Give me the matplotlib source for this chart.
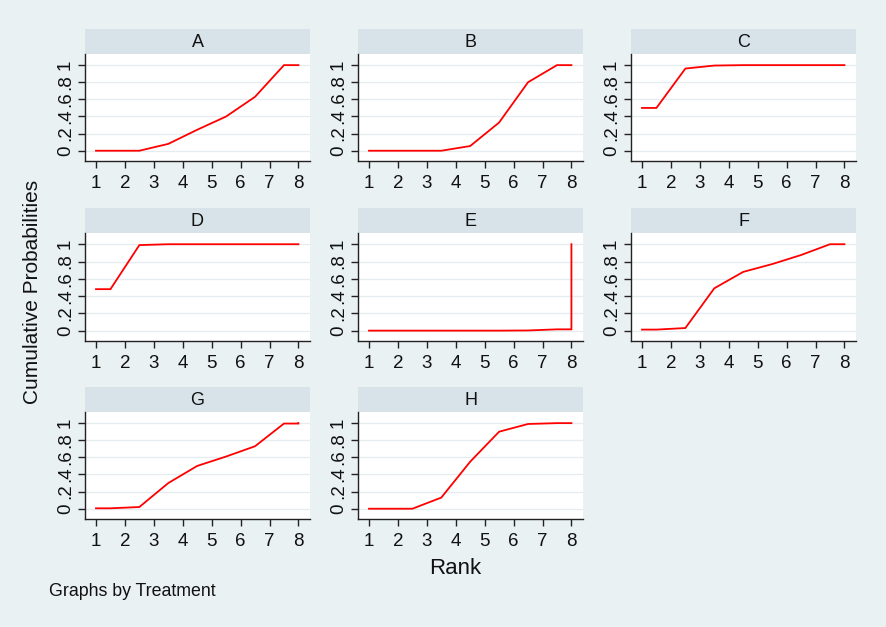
import matplotlib
matplotlib.use("Agg")
import matplotlib.pyplot as plt

treatments = ["A", "B", "C", "D", "E", "F", "G", "H"]
ranks = [1, 2, 3, 4, 5, 6, 7, 8]
cum_A = [0.0, 0.0, 0.08, 0.245, 0.40, 0.63, 1.0, 1.0]
cum_B = [0.0, 0.0, 0.0, 0.055, 0.33, 0.80, 1.0, 1.0]
cum_C = [0.50, 0.96, 0.995, 1.0, 1.0, 1.0, 1.0, 1.0]
cum_D = [0.48, 0.99, 1.0, 1.0, 1.0, 1.0, 1.0, 1.0]
cum_E = [0.0, 0.0, 0.0, 0.0, 0.0, 0.002, 0.015, 1.0]
cum_F = [0.012, 0.03, 0.49, 0.68, 0.77, 0.875, 1.0, 1.0]
cum_G = [0.005, 0.02, 0.30, 0.50, 0.61, 0.73, 0.995, 1.0]
cum_H = [0.0, 0.0, 0.13, 0.55, 0.90, 0.99, 1.0, 1.0]
series = [cum_A, cum_B, cum_C, cum_D, cum_E, cum_F, cum_G, cum_H]
yticks = [0, 0.2, 0.4, 0.6, 0.8, 1.0]
ytick_labels = ["0", ".2", ".4", ".6", ".8", "1"]

plt.rcParams['font.family'] = ['Liberation Sans', 'DejaVu Sans']

W, H = 886, 627
bg = "#EAF1F3"
strip_c = "#D7E3E9"
fig = plt.figure(figsize=(W / 100, H / 100), dpi=100, facecolor=bg)

col_x = [85, 358, 631]
col_w = 225
row_strip_top = [29, 208, 387]
row_plot_top = [54, 233, 412]
row_plot_bot = [161, 341, 519]

def fx(px):
    return px / W

def fy(py):
    return 1 - py / H

for i, (name, cum) in enumerate(zip(treatments, series)):
    r, c = divmod(i, 3)
    x0 = col_x[c]
    # strip
    sax = fig.add_axes([fx(x0), fy(row_plot_top[r]), fx(col_w),
                        (row_plot_top[r] - row_strip_top[r]) / H])
    sax.set_facecolor(strip_c)
    sax.set_xticks([]); sax.set_yticks([])
    for s in sax.spines.values():
        s.set_visible(False)
    sax.text(0.5, 0.45, name, ha="center", va="center", fontsize=13,
             transform=sax.transAxes, color="#111111")
    # plot
    ax = fig.add_axes([fx(x0), fy(row_plot_bot[r]), fx(col_w),
                       (row_plot_bot[r] - row_plot_top[r]) / H])
    ax.set_facecolor("white")
    xs = [ranks[0], ranks[0] + 0.5] + [k + 0.5 for k in ranks[1:7]] + [ranks[7], ranks[7]]
    ys = [cum[0], cum[0]] + cum[1:7] + [cum[6], cum[7]]
    for yv in yticks:
        ax.axhline(yv, color="#E6EDF0", lw=1.0, zorder=1)
    ax.plot(xs, ys, color="#FF0000", lw=1.3, zorder=3, solid_joinstyle="miter")
    ax.set_xlim(0.62, 8.4)
    ax.set_ylim(-0.12, 1.13)
    ax.set_xticks(ranks)
    ax.set_xticklabels([str(k) for k in ranks])
    ax.set_yticks(yticks)
    ax.set_yticklabels(ytick_labels, rotation=90, va="center")
    ax.spines["top"].set_visible(False)
    ax.spines["right"].set_visible(False)
    for s in ("left", "bottom"):
        ax.spines[s].set_color("#222222")
        ax.spines[s].set_linewidth(1.0)
    ax.tick_params(axis="both", direction="out", length=5, width=1.0,
                   color="#222222", labelsize=13.5, labelcolor="#111111")
    ax.tick_params(axis="x", pad=5)
    ax.tick_params(axis="y", pad=3)

fig.text(fx(33), fy(292), "Cumulative Probabilities", rotation=90,
         ha="center", va="center", fontsize=15, color="#111111")
fig.text(fx(455), fy(568), "Rank", ha="center", va="center", fontsize=16,
         color="#111111")
fig.text(fx(49), fy(592), "Graphs by Treatment", ha="left", va="center",
         fontsize=12.8, color="#111111")

fig.savefig("out.png", dpi=100, facecolor=bg)
